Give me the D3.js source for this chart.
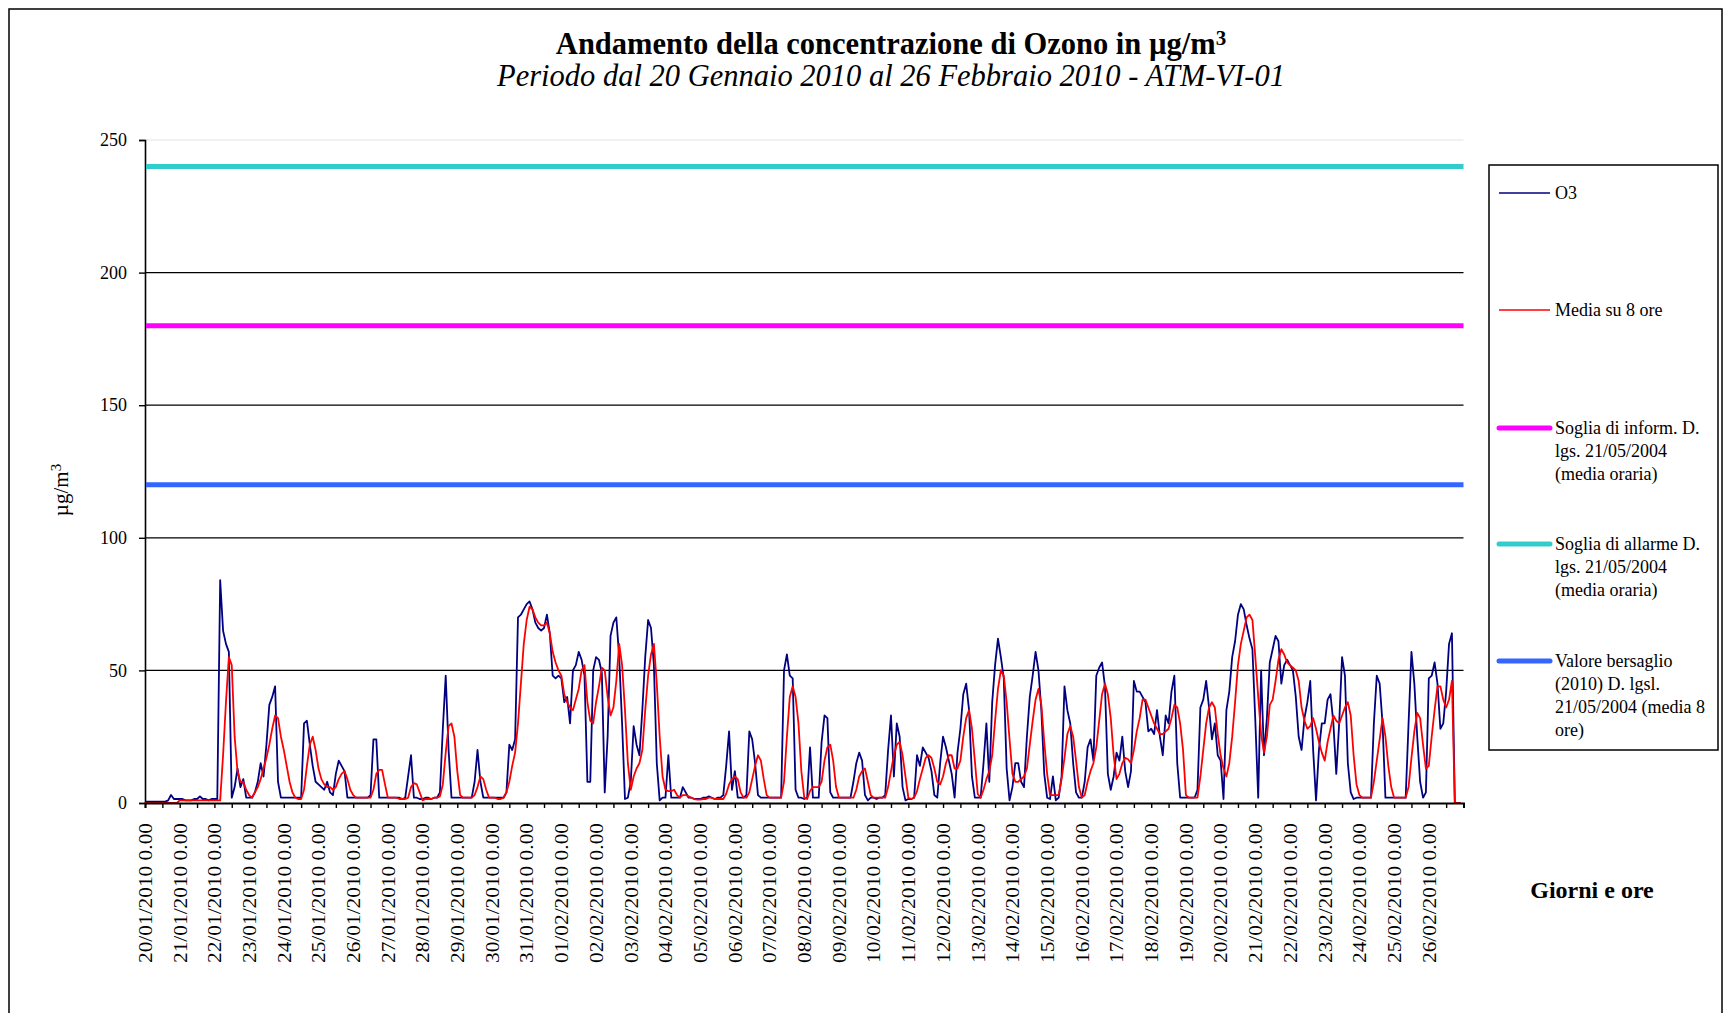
<!DOCTYPE html>
<html>
<head>
<meta charset="utf-8">
<script src="https://cdn.jsdelivr.net/npm/d3@7"></script>
<style>
  body { margin: 0; background: #fff; }
  svg text { font-family: "Liberation Serif", "Times New Roman", serif; fill: #000; }
</style>
</head>
<body>
<svg id="chart" width="1728" height="1013"></svg>
<script>
// day labels on the x axis (one per day, 20/01 -> 26/02)
var dayLabels = ["20/01/2010 0.00","21/01/2010 0.00","22/01/2010 0.00","23/01/2010 0.00","24/01/2010 0.00",
  "25/01/2010 0.00","26/01/2010 0.00","27/01/2010 0.00","28/01/2010 0.00","29/01/2010 0.00","30/01/2010 0.00",
  "31/01/2010 0.00","01/02/2010 0.00","02/02/2010 0.00","03/02/2010 0.00","04/02/2010 0.00","05/02/2010 0.00",
  "06/02/2010 0.00","07/02/2010 0.00","08/02/2010 0.00","09/02/2010 0.00","10/02/2010 0.00","11/02/2010 0.00",
  "12/02/2010 0.00","13/02/2010 0.00","14/02/2010 0.00","15/02/2010 0.00","16/02/2010 0.00","17/02/2010 0.00",
  "18/02/2010 0.00","19/02/2010 0.00","20/02/2010 0.00","21/02/2010 0.00","22/02/2010 0.00","23/02/2010 0.00",
  "24/02/2010 0.00","25/02/2010 0.00","26/02/2010 0.00"];

var yTicks = [0, 50, 100, 150, 200, 250];

// O3, one row per day, values every 2 hours (0,2,...,22)
var o3 = [
  [0.5,0.5,0.5,0.5,0.5,0.5,0.5,0.5,1,3,1.5,1.5],
  [1.5,1.5,1,1,1,1.5,1.5,2.5,1.5,1.5,1,1.5],
  [1.5,1.5,84,65,60,57,2,6,13,6,9,2],
  [2,2,4,8,15,10,22,37,40,44,8,2],
  [2,2,2,2,2,2,2,30,31,22,14,8],
  [7,6,5,8,4,3,11,16,14,12,2,2],
  [2,2,2,2,2,2,3,24,24,2,2,2],
  [2,2,2,2,2,1.5,2,10,18,2,2,1.5],
  [1.5,2,2,1.5,2,2,4,28,48,20,2,2],
  [2,2,2,2,2,2,8,20,8,2,2,2],
  [2,2,2,2,2,4,22,20,24,70,71,73],
  [75,76,73,68,66,65,66,71,64,48,47,48],
  [47,38,40,30,50,52,57,54,48,8,8,50],
  [55,54,49,4,25,63,68,70,55,30,1.5,2],
  [8,29,22,18,35,55,69,66,52,15,1,2],
  [2,18,2,2,2,2,6,4,2,2,1.5,1.5],
  [1.5,2,2,2.5,2,1.5,2,2,3,14,27,5],
  [12,2,2,2,3,27,24,15,3,2,2,2],
  [2,2,2,2,2,50,56,48,47,5,2,2],
  [1.5,2,21,2,2,2,23,33,32,4,2,2],
  [2,2,2,2,2,8,15,19,16,3,1,2],
  [2,1.5,2,2,3,20,33,10,30,25,6,1],
  [1.5,1.5,2,18,14,21,19,17,12,3,2,15],
  [25,21,16,11,2,19,28,41,45,35,10,2],
  [2,2,15,30,8,38,52,62,55,47,13,1],
  [6,15,15,8,6,25,40,48,57,50,35,11],
  [2,1.5,10,1,2,10,44,35,30,15,4,2],
  [2,8,21,24,16,48,51,53,44,11,5,10],
  [19,16,25,12,6,12,46,42,42,40,38,27],
  [28,26,35,25,18,33,30,42,48,15,2,2],
  [2,2,2,2,5,36,39,46,36,24,30,18],
  [16,1.5,35,42,55,61,71,75,73,67,62,58],
  [31,2,50,18,32,53,58,63,61,45,52,54],
  [52,50,40,25,20,32,38,46,20,1,20,30],
  [30,39,41,30,11,30,55,48,15,4,1.5,2],
  [2,2,2,2,2,30,48,45,30,2,2,2],
  [2,2,2,2,2,30,57,45,25,8,2,4],
  [47,48,53,45,28,30,42,60,64,0,0,0]
];

// 8-hour moving average, same layout
var media8 = [
  [0,0,0,0,0,0,0,0,0,0,0,0],
  [1,1,1,1,1,1,1,1,1,1,1,1],
  [1,1,1,18,38,55,52,25,12,8,8,5],
  [3,2,4,6,9,13,17,22,28,33,32,25],
  [20,14,8,4,2,1.5,1.5,5,14,22,25,20],
  [13,9,7,6,6,5,6,9,11,12,9,5],
  [3,2,2,2,2,2,2,5,11,12.5,12.5,7],
  [2,2,2,2,1.5,1.5,1.5,2,6,7.5,7,4],
  [1,1.5,1.5,1.5,2,2,2.5,7,19,29,30,25],
  [12,3,2,2,2,2,3,6,10,9,5,2],
  [2,2,1.5,1.5,2,4,8,14,19,30,45,60],
  [69,74,73,70,68,67,67,68,64,57,53,50],
  [48,41,38,36,35,39,43,50,52,38,31,30],
  [38,44,51,50,40,33,36,46,60,52,35,15],
  [5,10,13,15,20,35,48,56,60,45,25,10],
  [5,4.5,4.5,5,3,2,3,3,2.5,2,1.5,1.3],
  [1.3,1.5,1.5,2,2,1.5,1.5,1.5,1.5,3.5,7,9],
  [10,9,4,2,2,4,9,14,18,16,9,3],
  [2,2,2,2,2,8,25,40,44,40,30,12],
  [2,1.5,4.5,6,6,6,8,16,21,22,16,6],
  [2,2,2,2,2,2,5,10,12,13,8,3],
  [2,2,2,2,2,6,12,18,22,23,18,10],
  [2,1.5,2,4.5,9,13,17,18,17,13,8,7],
  [10,15,18,18,13,13,16,25,32,35,28,16],
  [3.4,2,5,9,12,18,31,43,50,48,38,24],
  [11,8,8,9,10,13,22,31,39,43,37,23],
  [11,3,3,3,3,9,17,26,29,25,16,6],
  [2,3,8,12,15,21,31,41,45,41,32,18],
  [9,11,15,17,16.5,15,20,27,32,39,39,36],
  [33,30,28,26,26,27,28,32,37,36,30,20],
  [3,2,2,2,2,10,20,30,36,38,36,26],
  [18,13,10,15,25,38,52,60,65,70,71,69],
  [55,40,26,19,25,37,39,46,54,58,56,53],
  [52,51,50,46,36,31,28,29,32,28,23,19],
  [16,23,28,33,31,30,33,36,38,33,18,7],
  [3,2,2,2,2,8,16,24,32,25,14,6],
  [2,2,2,2,2,6,17,27,34,32,22,13],
  [14,25,35,44,44,39,36,39,46,0,0,0]
];

// limit values (µg/m3)
var thresholds = [
  {name: "Soglia di allarme", value: 240, color: "#33CCCC"},
  {name: "Soglia di inform.", value: 180, color: "#FF00FF"},
  {name: "Valore bersaglio", value: 120, color: "#3366FF"}
];

var legendItems = [
  {lines: ["O3"], color: "#000080", w: 1.6},
  {lines: ["Media su 8 ore"], color: "#FF0000", w: 1.6},
  {lines: ["Soglia di inform. D.", "lgs. 21/05/2004", "(media oraria)"], color: "#FF00FF", w: 5},
  {lines: ["Soglia di allarme D.", "lgs. 21/05/2004", "(media oraria)"], color: "#33CCCC", w: 5},
  {lines: ["Valore bersaglio", "(2010) D. lgsl.", "21/05/2004 (media 8", "ore)"], color: "#3366FF", w: 5}
];

var totalHours = 912;

function toPoints(rows) {
  var pts = [];
  rows.forEach(function(r, d) {
    r.forEach(function(v, k) { pts.push({h: d * 24 + k * 2, v: v}); });
  });
  return pts;
}

var svg = d3.select("#chart");

svg.append("rect").attr("width", 1728).attr("height", 1013).attr("fill", "#fff");
svg.append("rect")
  .attr("x", 9).attr("y", 9).attr("width", 1713).attr("height", 1030)
  .attr("fill", "none").attr("stroke", "#000").attr("stroke-width", 1.5);

var x = d3.scaleLinear().domain([0, totalHours]).range([145, 1463.5]);
var y = d3.scaleLinear().domain([0, 250]).range([803, 140]);

// title
var title = svg.append("text")
  .attr("x", 891).attr("y", 54)
  .attr("text-anchor", "middle")
  .style("font-size", "30.5px").style("font-weight", "bold");
title.append("tspan").text("Andamento della concentrazione di Ozono in µg/m");
title.append("tspan").attr("dy", "-0.42em").style("font-size", "21px").text("3");

svg.append("text")
  .attr("x", 891).attr("y", 86)
  .attr("text-anchor", "middle")
  .style("font-size", "30.5px").style("font-style", "italic")
  .text("Periodo dal 20 Gennaio 2010 al 26 Febbraio 2010 - ATM-VI-01");

// gridlines
svg.append("g").selectAll("line")
  .data(yTicks.filter(function(t) { return t > 0; }))
  .enter().append("line")
  .attr("x1", x(0)).attr("x2", x(totalHours))
  .attr("y1", function(d) { return y(d); })
  .attr("y2", function(d) { return y(d); })
  .attr("stroke", function(d) { return d === 250 ? "#e4e4e4" : "#000"; })
  .attr("stroke-width", 1.2);

// y axis
var yAxis = svg.append("g")
  .attr("transform", "translate(" + x(0) + ",0)")
  .call(d3.axisLeft(y).tickValues(yTicks).tickSize(6).tickPadding(12));
yAxis.select(".domain").attr("stroke-width", 1.6);
yAxis.selectAll("line").attr("stroke-width", 1.4);
yAxis.selectAll("text").style("font-size", "18px").attr("font-family", null);

var yLab = svg.append("text")
  .attr("transform", "translate(68,490) rotate(-90)")
  .attr("text-anchor", "middle")
  .style("font-size", "21px");
yLab.append("tspan").text("µg/m");
yLab.append("tspan").attr("dy", "-0.45em").style("font-size", "15px").text("3");

// threshold lines
svg.append("g").selectAll("line")
  .data(thresholds)
  .enter().append("line")
  .attr("x1", x(0) + 1).attr("x2", x(totalHours))
  .attr("y1", function(d) { return y(d.value); })
  .attr("y2", function(d) { return y(d.value); })
  .attr("stroke", function(d) { return d.color; })
  .attr("stroke-width", 5);

// data lines
var line = d3.line()
  .x(function(d) { return x(d.h); })
  .y(function(d) { return y(d.v); });

svg.append("path")
  .datum(toPoints(o3))
  .attr("d", line)
  .attr("fill", "none")
  .attr("stroke", "#000080")
  .attr("stroke-width", 1.8)
  .attr("stroke-linejoin", "round");

svg.append("path")
  .datum(toPoints(media8))
  .attr("d", line)
  .attr("fill", "none")
  .attr("stroke", "#FF0000")
  .attr("stroke-width", 1.8)
  .attr("stroke-linejoin", "round");

// x axis: tick every 12 hours, label every day
var xAxis = svg.append("g")
  .attr("transform", "translate(0," + y(0) + ")")
  .call(d3.axisBottom(x).tickValues(d3.range(0, totalHours + 1, 12)).tickSize(5).tickFormat(""));
xAxis.select(".domain").attr("stroke-width", 2);
xAxis.selectAll("line").attr("stroke-width", 1.4);

svg.append("g").selectAll("text")
  .data(dayLabels)
  .enter().append("text")
  .attr("transform", function(d, i) { return "translate(" + x(i * 24) + ",823) rotate(-90)"; })
  .attr("text-anchor", "end")
  .attr("dy", "0.35em")
  .attr("textLength", 140)
  .attr("lengthAdjust", "spacingAndGlyphs")
  .style("font-size", "19.5px")
  .text(function(d) { return d; });

svg.append("text")
  .attr("x", 1592).attr("y", 898)
  .attr("text-anchor", "middle")
  .style("font-size", "24px").style("font-weight", "bold")
  .text("Giorni e ore");

// legend
var lg = svg.append("g");
lg.append("rect")
  .attr("x", 1489).attr("y", 165).attr("width", 229).attr("height", 585)
  .attr("fill", "#fff").attr("stroke", "#000").attr("stroke-width", 1.5);

var legendY = [193, 310, 428, 544, 661];
var entry = lg.selectAll(".legend")
  .data(legendItems)
  .enter().append("g")
  .attr("class", "legend")
  .attr("transform", function(d, i) { return "translate(0," + legendY[i] + ")"; });

entry.append("line")
  .attr("x1", 1499).attr("x2", 1550)
  .attr("stroke", function(d) { return d.color; })
  .attr("stroke-width", function(d) { return d.w; })
  .attr("stroke-linecap", function(d) { return d.w > 3 ? "round" : "butt"; });

entry.append("text")
  .style("font-size", "18px")
  .selectAll("tspan")
  .data(function(d) { return d.lines; })
  .enter().append("tspan")
  .attr("x", 1555)
  .attr("y", function(d, i) { return i * 23; })
  .attr("dy", "0.35em")
  .text(function(d) { return d; });
</script>
</body>
</html>
